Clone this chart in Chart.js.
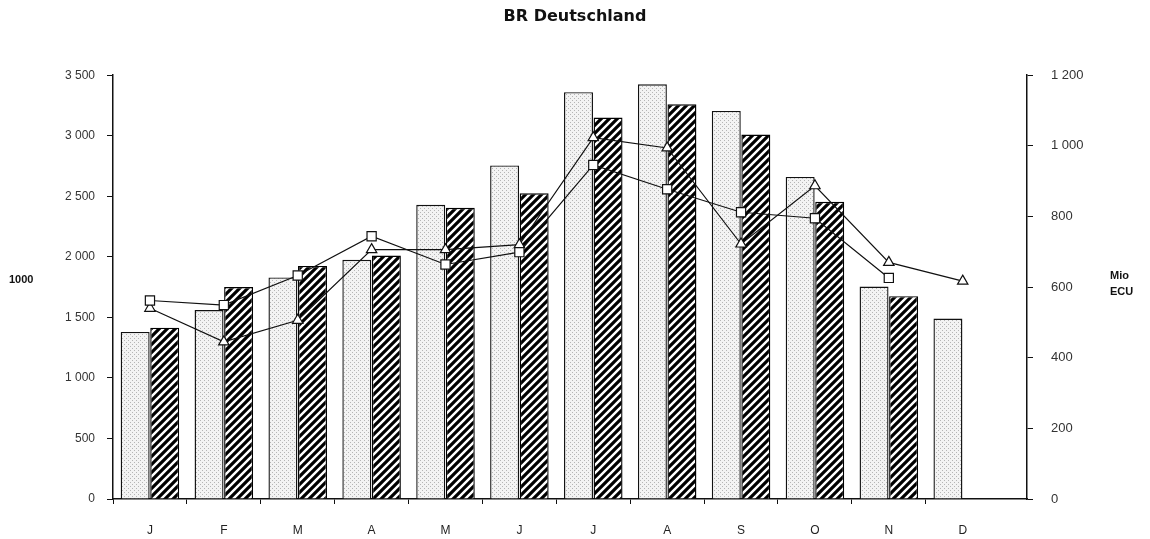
<!DOCTYPE html>
<html>
<head>
<meta charset="utf-8">
<script src="https://cdn.jsdelivr.net/npm/chart.js@4.4.1/dist/chart.umd.min.js"></script>
<style>
  html, body { margin: 0; padding: 0; background: #fff; }
  #wrap { width: 1150px; height: 539px; }
</style>
</head>
<body>
<div id="wrap"><canvas id="brChart" width="1150" height="539"></canvas></div>
<script>
// Months
const months = ['J', 'F', 'M', 'A', 'M', 'J', 'J', 'A', 'S', 'O', 'N', 'D'];

// Bars, left axis (1000)
const barsDotted = [1380, 1560, 1830, 1975, 2430, 2755, 3360, 3425, 3205, 2660, 1755, 1490];
const barsHatched = [1415, 1750, 1925, 2010, 2405, 2525, 3150, 3260, 3010, 2455, 1675, null];

// Lines, right axis (Mio ECU)
const lineSquares = [562, 549, 633, 744, 664, 699, 946, 877, 812, 795, 626, null];
const lineTriangles = [540, 445, 506, 706, 706, 720, 1023, 994, 722, 887, 670, 617];

const leftTicks = [0, 500, 1000, 1500, 2000, 2500, 3000, 3500];
const rightTicks = [0, 200, 400, 600, 800, 1000, 1200];

const FONT = '"Liberation Sans", Arial, sans-serif';

// month index -> point, so the x axis can run a bit past December
function points(values) {
    return values.map((v, i) => ({ x: i, y: v }));
}

function spaced(v) {
    return String(v).replace(/\B(?=(\d{3})+(?!\d))/g, ' ');
}

function hatchPattern() {
    const c = document.createElement('canvas');
    c.width = 8; c.height = 8;
    const g = c.getContext('2d');
    g.fillStyle = '#fff';
    g.fillRect(0, 0, 8, 8);
    g.strokeStyle = '#000';
    g.lineWidth = 3.2;
    g.beginPath();
    g.moveTo(-2, 10); g.lineTo(10, -2);
    g.moveTo(-2, 2); g.lineTo(2, -2);
    g.moveTo(6, 10); g.lineTo(10, 6);
    g.stroke();
    return g.createPattern(c, 'repeat');
}

function dotPattern() {
    const c = document.createElement('canvas');
    c.width = 4; c.height = 4;
    const g = c.getContext('2d');
    g.fillStyle = '#f3f3f3';
    g.fillRect(0, 0, 4, 4);
    g.fillStyle = '#b5b5b5';
    g.fillRect(0, 0, 1, 1);
    g.fillRect(2, 2, 1, 1);
    return g.createPattern(c, 'repeat');
}

// side labels: "1000" on the left, "Mio ECU" on the right
const sideLabels = {
    id: 'sideLabels',
    afterDraw(chart) {
        const ctx = chart.ctx;
        ctx.save();
        ctx.font = 'bold 11px ' + FONT;
        ctx.fillStyle = '#111';
        ctx.textBaseline = 'middle';
        ctx.fillText('1000', 9, 280);
        ctx.fillText('Mio', 1110, 276);
        ctx.fillText('ECU', 1110, 292);
        ctx.restore();
    }
};

const X_MIN = -0.5;
const X_MAX = 11.87;

document.addEventListener('DOMContentLoaded', function () {
    const ctx = document.getElementById('brChart');
    new Chart(ctx, {
        data: {
            datasets: [
                {
                    type: 'line',
                    data: points(lineSquares),
                    yAxisID: 'y1',
                    order: 1,
                    borderColor: '#111',
                    borderWidth: 1.2,
                    pointStyle: 'rect',
                    pointRadius: 6.5,
                    pointBackgroundColor: '#fff',
                    pointBorderColor: '#111',
                    pointBorderWidth: 1.2,
                    tension: 0
                },
                {
                    type: 'line',
                    data: points(lineTriangles),
                    yAxisID: 'y1',
                    order: 1,
                    borderColor: '#111',
                    borderWidth: 1.2,
                    pointStyle: 'triangle',
                    pointRadius: 6,
                    pointBackgroundColor: '#fff',
                    pointBorderColor: '#111',
                    pointBorderWidth: 1.2,
                    tension: 0
                },
                {
                    type: 'bar',
                    data: points(barsDotted),
                    yAxisID: 'y',
                    order: 2,
                    backgroundColor: dotPattern(),
                    borderColor: '#111',
                    borderWidth: 1.4,
                    categoryPercentage: 0.8,
                    barPercentage: 0.98
                },
                {
                    type: 'bar',
                    data: points(barsHatched),
                    yAxisID: 'y',
                    order: 2,
                    backgroundColor: hatchPattern(),
                    borderColor: '#000',
                    borderWidth: 1.4,
                    categoryPercentage: 0.8,
                    barPercentage: 0.98
                }
            ]
        },
        options: {
            responsive: false,
            animation: false,
            layout: { padding: 0 },
            plugins: {
                legend: { display: false },
                tooltip: { enabled: false },
                title: {
                    display: true,
                    text: 'BR Deutschland',
                    color: '#111',
                    font: { family: '"DejaVu Sans", sans-serif', size: 16, weight: 'bold' },
                    padding: { top: 7, bottom: 49 }
                }
            },
            scales: {
                // month labels under the centres
                x: {
                    type: 'linear',
                    position: 'bottom',
                    offset: false,
                    weight: 2,
                    min: X_MIN,
                    max: X_MAX,
                    afterBuildTicks: function (scale) {
                        scale.ticks = months.map((m, i) => ({ value: i }));
                    },
                    grid: { display: false, offset: false },
                    border: { display: false },
                    ticks: {
                        autoSkip: false,
                        maxRotation: 0,
                        color: '#222',
                        padding: 10,
                        font: { family: FONT, size: 12 },
                        callback: function (v) { return months[v]; }
                    },
                    afterFit: function (scale) { scale.height = 34; }
                },
                // axis line with tick marks between months
                xb: {
                    type: 'linear',
                    position: 'bottom',
                    offset: false,
                    weight: 1,
                    min: X_MIN,
                    max: X_MAX,
                    afterBuildTicks: function (scale) {
                        scale.ticks = months.map((m, i) => ({ value: i - 0.5 }));
                    },
                    grid: { drawOnChartArea: false, offset: false, tickLength: 5, color: '#111' },
                    border: { color: '#111', width: 1.5 },
                    ticks: { display: false },
                    afterFit: function (scale) { scale.height = 6; }
                },
                y: {
                    position: 'left',
                    min: 0,
                    max: 3500,
                    afterBuildTicks: function (scale) {
                        scale.ticks = leftTicks.map(v => ({ value: v }));
                    },
                    grid: { drawOnChartArea: false, tickLength: 6, color: '#111' },
                    border: { color: '#111', width: 1.5 },
                    ticks: {
                        color: '#333',
                        padding: 12,
                        font: { family: FONT, size: 12 },
                        callback: function (v) { return spaced(v); }
                    },
                    afterFit: function (scale) { scale.width = 113; }
                },
                y1: {
                    position: 'right',
                    min: 0,
                    max: 1200,
                    afterBuildTicks: function (scale) {
                        scale.ticks = rightTicks.map(v => ({ value: v }));
                    },
                    grid: { drawOnChartArea: false, tickLength: 6, color: '#111' },
                    border: { color: '#111', width: 1.5 },
                    ticks: {
                        color: '#333',
                        padding: 18,
                        font: { family: FONT, size: 13 },
                        callback: function (v) { return spaced(v); }
                    },
                    afterFit: function (scale) { scale.width = 123; }
                }
            }
        },
        plugins: [sideLabels]
    });
});
</script>
</body>
</html>
